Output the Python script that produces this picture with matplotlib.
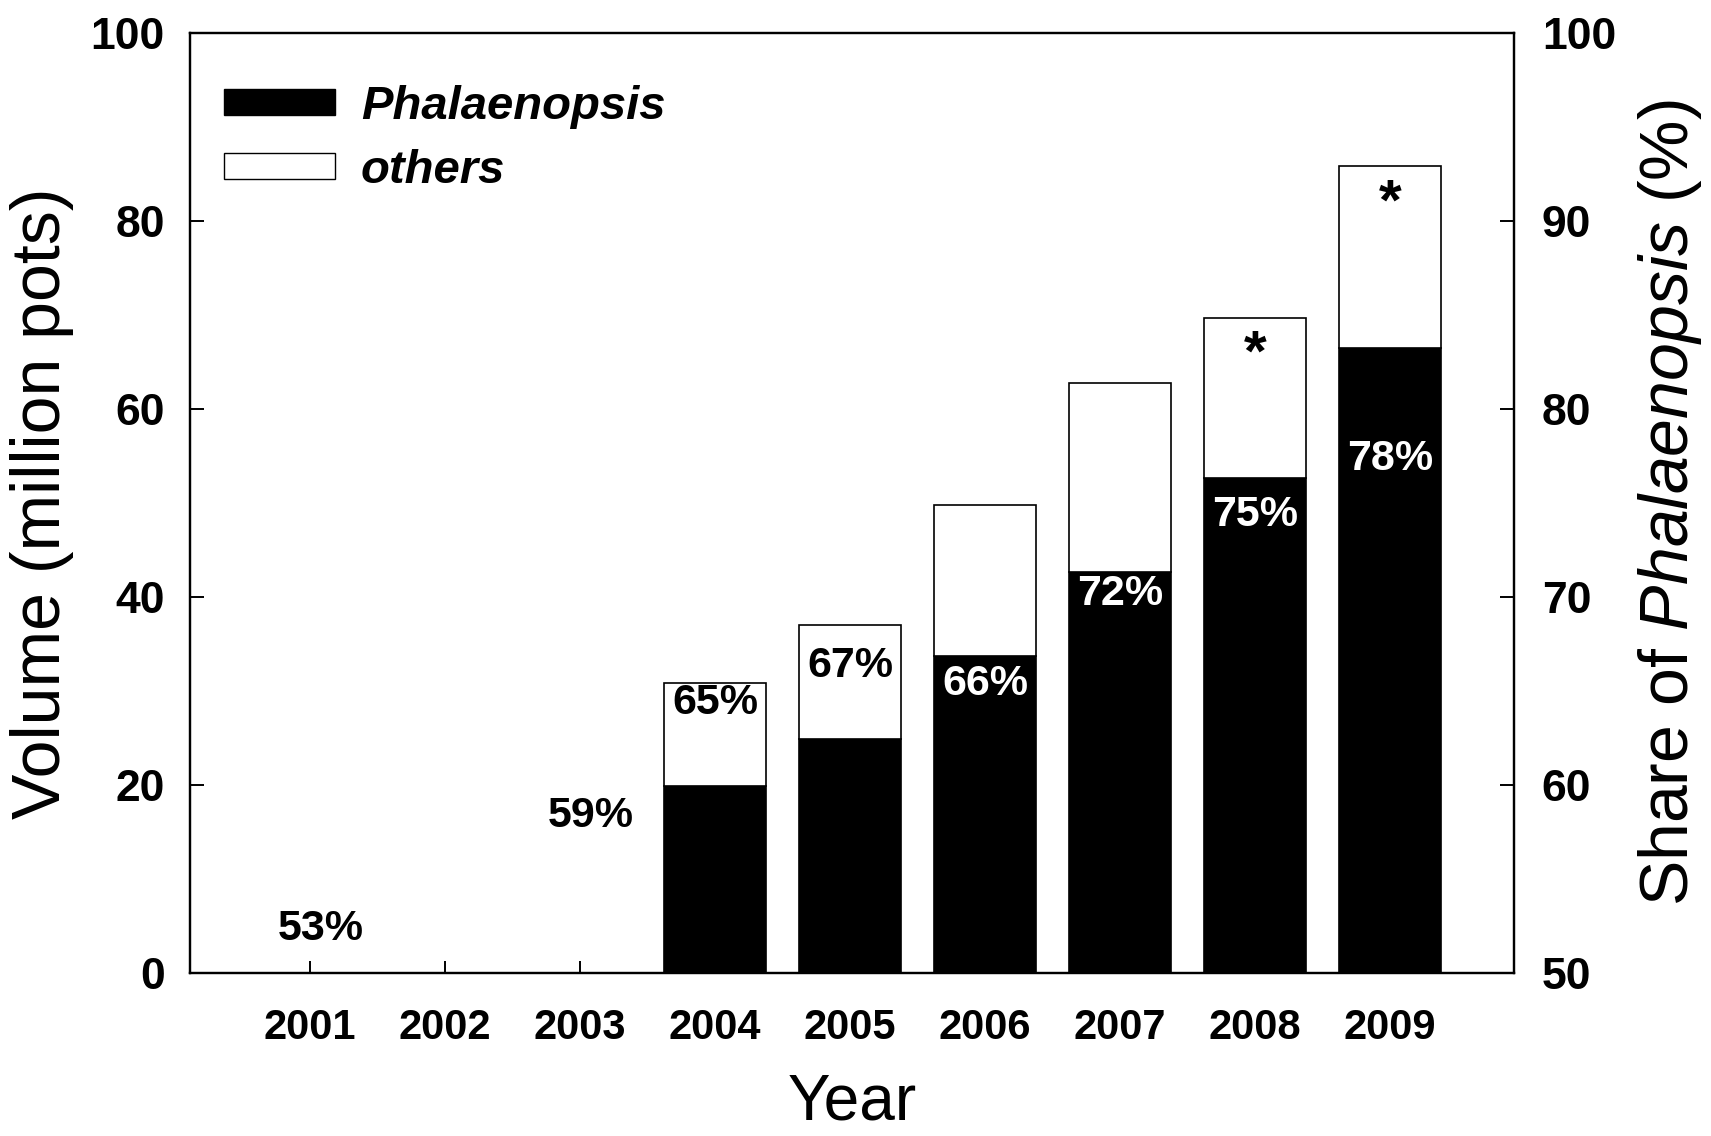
import numpy as np
import matplotlib
matplotlib.use("Agg")
import matplotlib.pyplot as plt
from matplotlib.patches import Patch
from matplotlib.font_manager import FontProperties

plt.rcParams['font.family'] = ['Liberation Sans', 'DejaVu Sans']
plt.rcParams['mathtext.fontset'] = 'custom'
plt.rcParams['mathtext.rm'] = 'Liberation Sans'
plt.rcParams['mathtext.it'] = 'Liberation Sans:italic'

# ---- data ----
years = [2001, 2002, 2003, 2004, 2005, 2006, 2007, 2008, 2009]
phalaenopsis = [np.nan, np.nan, np.nan, 19.9, 24.9, 33.7, 42.7, 52.7, 66.5]   # million pots
total = [np.nan, np.nan, np.nan, 30.9, 37.0, 49.8, 62.8, 69.7, 85.8]          # million pots
share_labels = [53, None, 59, 65, 67, 66, 72, 75, 78]                        # % Phalaenopsis
starred = [False, False, False, False, False, False, False, True, True]

phal = np.array(phalaenopsis, dtype=float)
others = np.array(total, dtype=float) - phal

fig = plt.figure(figsize=(17.11, 11.36), dpi=100)
ax = fig.add_axes([0.1110, 0.1435, 0.7739, 0.8275])

ax.bar(years, phal, width=0.75, color='black', edgecolor='black', linewidth=1.2, zorder=2)
ax.bar(years, others, bottom=phal, width=0.75, color='white', edgecolor='black',
       linewidth=1.2, zorder=2)

ax.set_xlim(2000.11, 2009.92)
ax.set_ylim(0, 100)
ax.set_xticks(years)
ax.set_xticklabels([str(y) for y in years])
ax.set_yticks(np.arange(0, 101, 20))

for s in ax.spines.values():
    s.set_linewidth(1.6)

ax.tick_params(axis='x', direction='in', length=9, width=1.4, pad=25,
               labelsize=30, top=False)
ax.tick_params(axis='y', direction='in', length=10, width=1.4, pad=18,
               labelsize=32, right=False)
for lab in ax.get_xticklabels() + ax.get_yticklabels():
    lab.set_fontweight('bold')

ax.set_xlabel('Year', fontsize=46, labelpad=18)
ax.set_ylabel('Volume (million pots)', fontsize=49, labelpad=12)

ax2 = ax.twinx()
ax2.set_ylim(50, 100)
ax2.set_yticks(np.arange(50, 101, 10))
ax2.tick_params(axis='y', direction='in', length=10, width=1.4, pad=20, labelsize=32)
for lab in ax2.get_yticklabels():
    lab.set_fontweight('bold')
for s in ax2.spines.values():
    s.set_linewidth(1.6)
ax2.set_ylabel(r'Share of $\mathit{Phalaenopsis}$ (%)', fontsize=49,
               rotation=90, labelpad=14)

# percentage labels: placed at their share on the right axis; a label that
# would straddle the black/white boundary is moved just inside the black part
half_h = 1.8      # half label height, in left-axis units
for yr, sh, ph in zip(years, share_labels, phal):
    if sh is None:
        continue
    phv = 0.0 if np.isnan(ph) else ph
    centre = (sh - 50) * 2 - 1.3          # position in left-axis units
    if centre - half_h < phv < centre + half_h:
        centre = phv - half_h - 0.6
    col = 'white' if centre < phv else 'black'
    dx = 0 if phv > 0 else 8
    ax.annotate(f'{sh}%', xy=(yr, centre), xytext=(dx, 0), textcoords='offset points',
                ha='center', va='center', fontsize=31, fontweight='bold', color=col,
                zorder=5)

# asterisks at top of flagged bars
for yr, tot, st in zip(years, total, starred):
    if st:
        ax.annotate('*', xy=(yr, tot), xytext=(0, -8), textcoords='offset points',
                    ha='center', va='top', fontsize=42, fontweight='bold',
                    color='black', zorder=5)

handles = [Patch(facecolor='black', edgecolor='black', linewidth=1.0),
           Patch(facecolor='white', edgecolor='black', linewidth=1.0)]
leg = ax.legend(handles, ['Phalaenopsis', 'others'], loc='upper left',
                bbox_to_anchor=(-0.01, 0.995), frameon=False,
                prop=FontProperties(family='Liberation Sans', style='italic',
                                    weight='bold', size=34),
                handlelength=2.35, handleheight=0.45, handletextpad=0.55,
                labelspacing=0.42, borderaxespad=0.6)

fig.savefig('out.png', dpi=100, facecolor='white')
